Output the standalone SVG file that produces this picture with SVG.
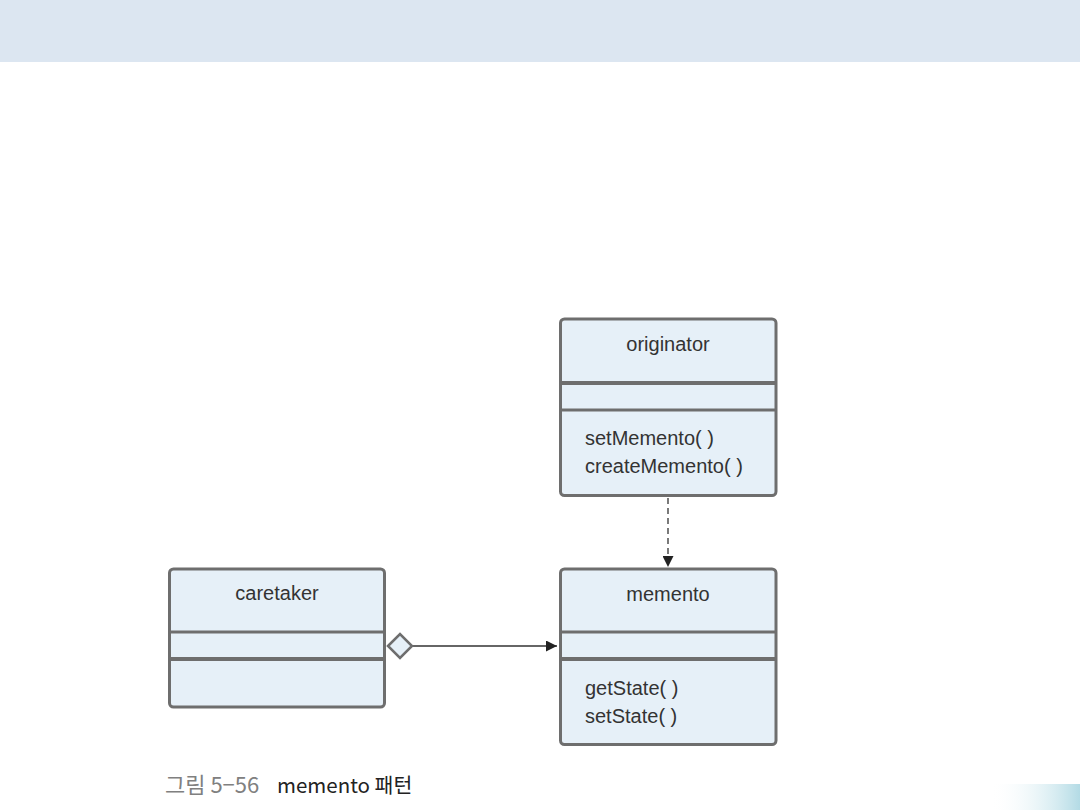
<svg xmlns="http://www.w3.org/2000/svg" width="1080" height="810" viewBox="0 0 1080 810">
<style>
.box{fill:#e6f0f8;stroke:#6e6e6e;stroke-width:3}
.div1{stroke:#6e6e6e;stroke-width:4}
.div2{stroke:#6e6e6e;stroke-width:3}
.t{font-family:"Liberation Sans",Arial,sans-serif;font-size:20px;fill:#333}
.c{text-anchor:middle}
.conn{stroke:#333;stroke-width:1.3;fill:none}
.cap{font-family:"Noto Sans CJK KR","Liberation Sans",sans-serif}
</style>
<defs>
<marker id="arr" viewBox="0 0 10 10" refX="10" refY="5" markerWidth="11" markerHeight="11" markerUnits="userSpaceOnUse" orient="auto">
<path d="M0,0 L10,5 L0,10 z" fill="#222"/>
</marker>
<linearGradient id="g" x1="0" y1="0" x2="1" y2="0">
<stop offset="0" stop-color="#ffffff" stop-opacity="0"/>
<stop offset="1" stop-color="#b3dbe5"/>
</linearGradient>
</defs>
<rect x="0" y="0" width="1080" height="810" fill="#ffffff"/>
<rect x="0" y="0" width="1080" height="62" fill="#dce6f1"/>
<rect x="990" y="784" width="90" height="26" fill="url(#g)"/>
<g id="originator">
<rect class="box" x="560.5" y="319" width="215.5" height="176.5" rx="4"/>
<line class="div1" x1="560" y1="383" x2="776" y2="383"/>
<line class="div2" x1="560" y1="410" x2="776" y2="410"/>
<text class="t c" x="668" y="351">originator</text>
<text class="t" x="585" y="445">setMemento( )</text>
<text class="t" x="585" y="473">createMemento( )</text>
</g>
<g id="memento">
<rect class="box" x="560.5" y="569" width="215.5" height="175.5" rx="4"/>
<line class="div2" x1="560" y1="632" x2="776" y2="632"/>
<line class="div1" x1="560" y1="659" x2="776" y2="659"/>
<text class="t c" x="668" y="601">memento</text>
<text class="t" x="585" y="695">getState( )</text>
<text class="t" x="585" y="723">setState( )</text>
</g>
<g id="caretaker">
<rect class="box" x="169.5" y="569" width="215" height="138" rx="4"/>
<line class="div2" x1="169" y1="632" x2="385" y2="632"/>
<line class="div1" x1="169" y1="659" x2="385" y2="659"/>
<text class="t c" x="277" y="600">caretaker</text>
</g>
<g id="connectors">
<line class="conn" x1="668" y1="498" x2="668" y2="567" stroke-dasharray="6,4" marker-end="url(#arr)"/>
<line class="conn" x1="412" y1="646" x2="557" y2="646" marker-end="url(#arr)"/>
<path d="M388,646 L400,634 L412,646 L400,658 z" fill="#e6f0f8" stroke="#6e6e6e" stroke-width="2.5"/>
</g>
<g id="caption">
<text class="cap" x="165" y="793" font-size="22" fill="#808080">그림 5−56</text>
<text class="cap" x="277" y="793" font-size="20.5" fill="#222">memento 패턴</text>
</g>
</svg>
